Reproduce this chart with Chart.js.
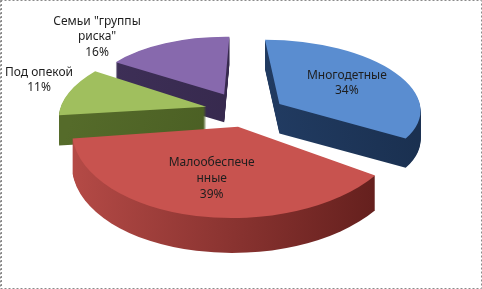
<!DOCTYPE html>
<html><head><meta charset="utf-8">
<script src="https://cdn.jsdelivr.net/npm/chart.js"></script>
<style>html,body{margin:0;padding:0;background:#fff}#wrap{position:relative;width:482px;height:289px}canvas{display:block}</style>
</head><body><div id="wrap"><canvas id="c" width="482" height="289"></canvas></div>
<script>
// ---- data ----
const categories = ['Многодетные', 'Малообеспеченные', 'Под опекой', 'Семьи "группы риска"'];
const values = [34, 39, 11, 16];
const labelLines = [['Многодетные'], ['Малообеспече', 'нные'], ['Под опекой'], ['Семьи "группы', 'риска"']];

// ---- styles ----
const topColors = ['#5a8dd0', '#c8534f', '#a0bf5e', '#8769ad'];
const wallLeft = ['#2c4c7c', '#b84c48', '#556b2a', '#40315a'];
const wallRight = ['#1a3050', '#5a1a18', '#3c4e1b', '#2c2140'];
const view = {cx: 243, cy: 110.7, sx: 148, sy: 71.5, persp: 0.15, explode: 0.25, depth: 31};
const outsideLabels = {2: {x: 39, y: 80}, 3: {x: 97, y: 37}};
const insideLabelDist = 0.85;

function proj(u, w) {
  const d = 1 - view.persp * w;
  return {x: view.cx + view.sx * u / d, y: view.cy + view.sy * w / d, d};
}
function solve3(M, v) {
  const det = (m) => m[0][0]*(m[1][1]*m[2][2]-m[1][2]*m[2][1]) - m[0][1]*(m[1][0]*m[2][2]-m[1][2]*m[2][0]) + m[0][2]*(m[1][0]*m[2][1]-m[1][1]*m[2][0]);
  const D = det(M), out = [];
  for (let k = 0; k < 3; k++) {
    const Mk = M.map((row, i) => row.map((x, j) => j === k ? v[i] : x));
    out.push(det(Mk) / D);
  }
  return out;
}
// least-squares affine approximation of the perspective view over one slice
function sliceXform(el) {
  const R = el.outerRadius, s0 = el.startAngle, s1 = el.endAngle, mid = (s0 + s1) / 2;
  const ua = view.explode * Math.cos(mid), wa = view.explode * Math.sin(mid);
  const pts = [];
  const n = 24;
  for (let k = 0; k <= n; k++) {
    const a = s0 + (s1 - s0) * k / n;
    pts.push([ua + Math.cos(a), wa + Math.sin(a)]);
  }
  for (let k = 0; k <= 8; k++) {
    const f = k / 8;
    pts.push([ua + f * Math.cos(s0), wa + f * Math.sin(s0)]);
    pts.push([ua + f * Math.cos(s1), wa + f * Math.sin(s1)]);
  }
  const M = [[0,0,0],[0,0,0],[0,0,0]], bx = [0,0,0], by = [0,0,0];
  for (const [u, w] of pts) {
    const p = proj(u, w), v = [u, w, 1];
    for (let i = 0; i < 3; i++) {
      for (let j = 0; j < 3; j++) M[i][j] += v[i] * v[j];
      bx[i] += v[i] * p.x; by[i] += v[i] * p.y;
    }
  }
  const [a, c, e] = solve3(M, bx), [b, d, f] = solve3(M, by);
  const th = s1 - s0, cdist = th > 0 ? 4 * Math.sin(th / 2) / (3 * th) : 0.6;
  const wc = wa + cdist * Math.sin(mid);
  const A = a / R, B = b / R, C = c / R, Dd = d / R;
  const E = e + a * (ua - el.x / R) + c * (wa - el.y / R);
  const F = f + b * (ua - el.x / R) + d * (wa - el.y / R);
  return {A, B, C, D: Dd, E, F, wc, dc: 1 - view.persp * wc};
}
function toLocal(t, X, Y) {
  const det = t.A * t.D - t.B * t.C, x = X - t.E, y = Y - t.F;
  return {x: (t.D * x - t.C * y) / det, y: (-t.B * x + t.A * y) / det};
}

const threeD = {
  id: 'threeD',
  beforeDatasetsDraw(chart) {
    const ctx = chart.ctx, els = chart.getDatasetMeta(0).data;
    const r = chart.currentDevicePixelRatio || 1;
    const xs = els.map(sliceXform);
    const order = els.map((_, i) => i).sort((a, b) => xs[a].wc - xs[b].wc);
    for (const i of order) {
      const el = els[i], t = xs[i];
      const H = view.depth / t.dc;
      const tmp = Object.create(el);
      for (let s = H; s >= 0.5; s -= 1) {
        ctx.save();
        ctx.setTransform(r * t.A, r * t.B, r * t.C, r * t.D, r * t.E, r * (t.F + s));
        const tt = Object.assign({}, t, {F: t.F + s});
        const p1 = toLocal(tt, 60, 150), p2 = toLocal(tt, 420, 150);
        const g = ctx.createLinearGradient(p1.x, p1.y, p2.x, p2.y);
        g.addColorStop(0, wallLeft[i]);
        g.addColorStop(1, wallRight[i]);
        tmp.options = Object.assign({}, el.options, {backgroundColor: g, borderWidth: 0});
        el.draw.call(tmp, ctx);
        ctx.restore();
      }
    }
    for (const i of order) {
      const el = els[i], t = xs[i];
      ctx.save();
      ctx.setTransform(r * t.A, r * t.B, r * t.C, r * t.D, r * t.E, r * t.F);
      el.draw(ctx);
      ctx.restore();
    }
    return false;
  },
  afterDraw(chart) {
    const ctx = chart.ctx, els = chart.getDatasetMeta(0).data;
    const total = values.reduce((a, b) => a + b, 0);
    ctx.save();
    ctx.font = '12px "Noto Sans", sans-serif';
    ctx.fillStyle = '#1e1e1e';
    ctx.textAlign = 'center';
    ctx.textBaseline = 'middle';
    const lh = 15.7;
    els.forEach((el, i) => {
      const lines = labelLines[i].concat([Math.round(values[i] / total * 100) + '%']);
      let c = outsideLabels[i];
      if (!c) {
        const mid = (el.startAngle + el.endAngle) / 2;
        c = proj(insideLabelDist * Math.cos(mid), insideLabelDist * Math.sin(mid));
      }
      const y0 = c.y - (lines.length - 1) / 2 * lh;
      lines.forEach((s, k) => ctx.fillText(s, c.x, y0 + k * lh));
    });
    ctx.strokeStyle = '#8a8a8a';
    ctx.lineWidth = 1;
    ctx.setLineDash([2, 2]);
    ctx.strokeRect(0.5, 0.5, 481, 288);
    ctx.beginPath(); ctx.moveTo(1.5, 0); ctx.lineTo(1.5, 289); ctx.stroke();
    ctx.restore();
  }
};

new Chart(document.getElementById('c'), {
  type: 'pie',
  data: {
    labels: categories,
    datasets: [{data: values, backgroundColor: topColors, borderWidth: 0, offset: 0}]
  },
  options: {
    responsive: false,
    animation: false,
    events: [],
    radius: 100,
    layout: {padding: 0},
    plugins: {legend: {display: false}, tooltip: {enabled: false}}
  },
  plugins: [threeD]
});
</script>
</body></html>
